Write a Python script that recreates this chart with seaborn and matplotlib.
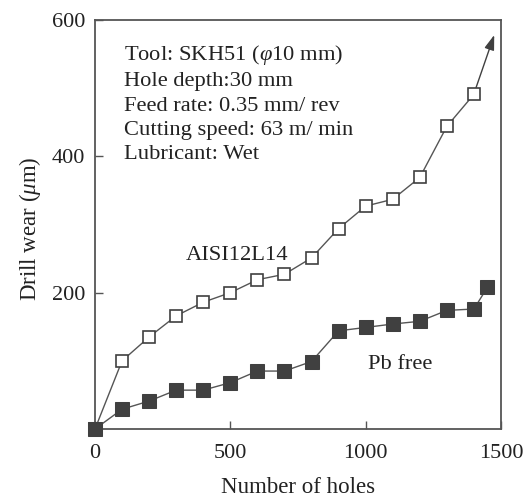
import matplotlib
matplotlib.use("Agg")
import matplotlib.pyplot as plt
import seaborn as sns
import pandas as pd

holes_open = [0, 100, 200, 300, 400, 500, 600, 700, 800, 900, 1000, 1100, 1200, 1300, 1400]
wear_open = [0, 100, 135, 166, 186, 200, 219, 227, 251, 294, 327, 337, 369, 444, 491]
holes_filled = [0, 100, 200, 300, 400, 500, 600, 700, 800, 900, 1000, 1100, 1200, 1300, 1400, 1450]
wear_filled = [0, 29, 41, 57, 57, 68, 85, 85, 99, 144, 149, 154, 158, 174, 176, 208]
arrow_tip = (1475, 578)

xticks = [0, 500, 1000, 1500]
yticks = [200, 400, 600]

info_lines = [
    "Tool: SKH51 ($\\varphi$10 mm)",
    "Hole depth:30 mm",
    "Feed rate: 0.35 mm/ rev",
    "Cutting speed: 63 m/ min",
    "Lubricant: Wet",
]

sns.set_style("ticks")
plt.rcParams["font.family"] = ["Liberation Serif", "DejaVu Serif"]
plt.rcParams["mathtext.fontset"] = "custom"
plt.rcParams["mathtext.rm"] = "Liberation Serif"
plt.rcParams["mathtext.it"] = "Liberation Serif:italic"

fig = plt.figure(figsize=(5.24, 4.97), dpi=100)
ax = fig.add_axes([95 / 524, 1 - 429 / 497, 406 / 524, 409 / 497])

col = "#404040"
tcol = "#222222"
df_o = pd.DataFrame({"x": holes_open, "y": wear_open})
df_f = pd.DataFrame({"x": holes_filled, "y": wear_filled})

sns.lineplot(data=df_o, x="x", y="y", ax=ax, color="#555555", lw=1.0,
             marker="s", markersize=9, markerfacecolor="white",
             markeredgecolor=col, markeredgewidth=1.2, clip_on=False, zorder=3)
sns.lineplot(data=df_f, x="x", y="y", ax=ax, color="#555555", lw=1.0,
             marker="s", markersize=9.5, markerfacecolor=col,
             markeredgecolor=col, clip_on=False, zorder=4)

ax.annotate("", xy=arrow_tip, xytext=(holes_open[-1] + 8, wear_open[-1] + 10),
            arrowprops=dict(arrowstyle="-|>,head_length=0.9,head_width=0.3",
                            color=col, lw=1.0, shrinkA=0, shrinkB=0))

ax.set_xlim(0, 1500)
ax.set_ylim(0, 600)
ax.set_xticks(xticks)
ax.set_yticks(yticks)
ax.set_xticklabels([str(v) for v in xticks])
ax.set_yticklabels([str(v) for v in yticks])
ax.tick_params(direction="in", length=6, width=1, color="#555555",
               labelsize=16, labelcolor=tcol)
ax.tick_params(axis="x", pad=11)
ax.tick_params(axis="y", pad=7)
for s in ax.spines.values():
    s.set_color("#555555")
    s.set_linewidth(1.3)

ax.set_xlabel("Number of holes", fontsize=16.5, color=tcol)
ax.set_ylabel("Drill wear ($\\mathit{\\mu}$m)", fontsize=16.5, color=tcol)
ax.xaxis.set_label_coords(0.5, -0.118)
ax.yaxis.set_label_coords(-0.128, 0.49)

ax.text(107, 566, "\n".join(info_lines), fontsize=16.2, color=tcol,
        va="top", ha="left", linespacing=1.38, transform=ax.transData)
ax.text(336, 255, "AISI12L14", fontsize=16.2, color=tcol, va="center", ha="left")
ax.text(1010, 94, "Pb free", fontsize=16.2, color=tcol, va="center", ha="left")

fig.savefig("out.png", dpi=100)
